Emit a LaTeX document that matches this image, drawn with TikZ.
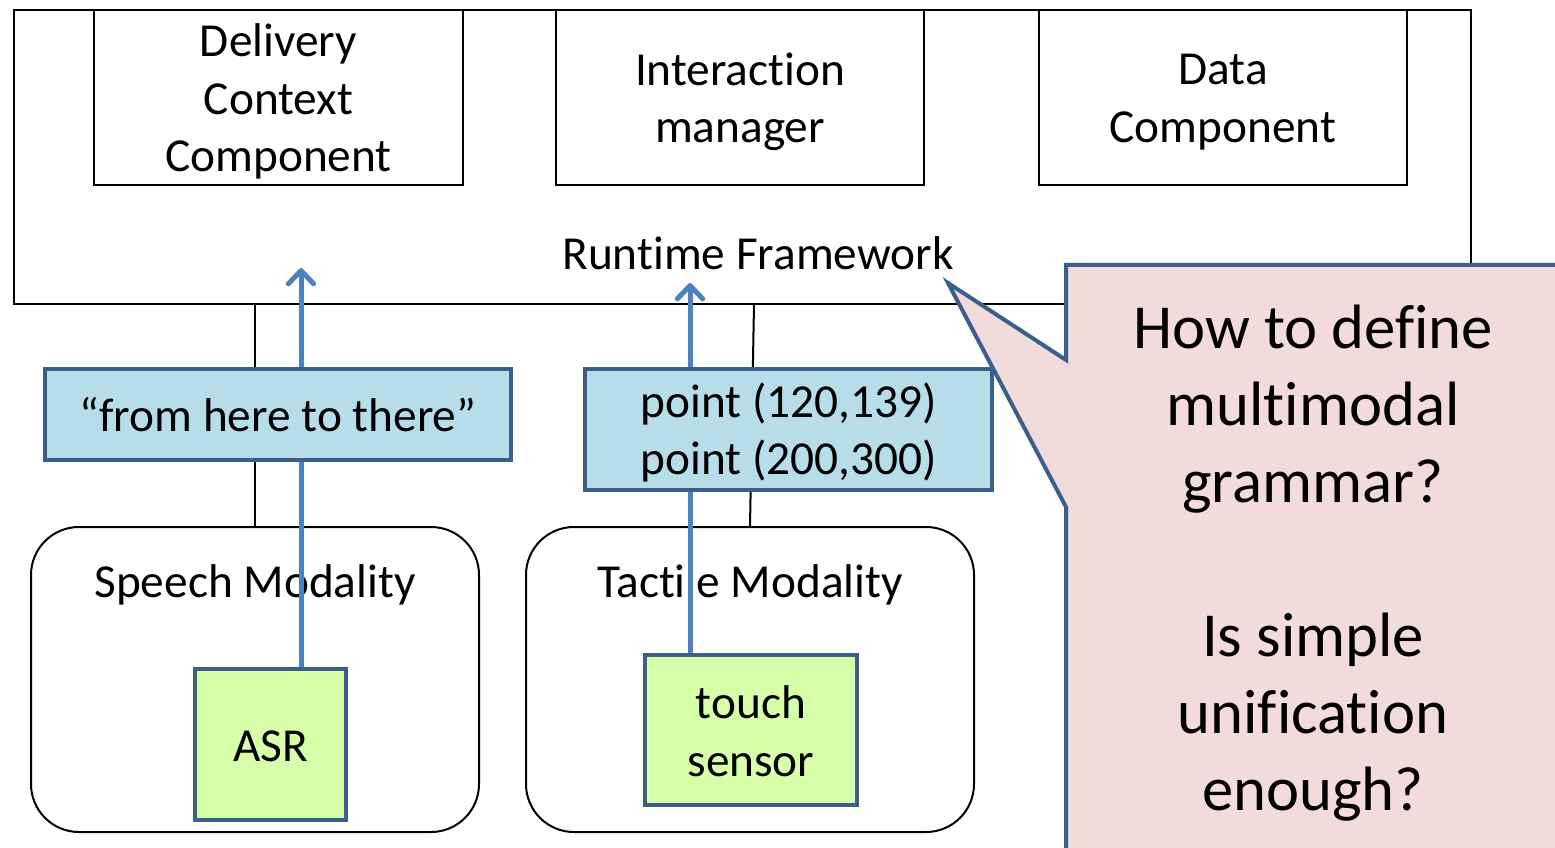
\documentclass[tikz,border=0pt]{standalone}
\usepackage{fontspec}
\setmainfont{Carlito}[Ligatures=NoCommon]
\usetikzlibrary{arrows.meta,calc}
\definecolor{msgfill}{HTML}{B7DEE8}
\definecolor{msgline}{HTML}{3B5E8C}
\definecolor{arrowblue}{HTML}{4F81BD}
\definecolor{devfill}{HTML}{D7FFAA}
\definecolor{notefill}{HTML}{F2DCDB}
\tikzset{
  txt/.style={font=\fontsize{35.5}{43}\selectfont, align=center, inner sep=0pt},
  plainbox/.style={draw=black, line width=1.5pt, fill=white, inner sep=0pt},
  modbox/.style={plainbox, rounded corners=36pt},
  msgbox/.style={draw=msgline, line width=3pt, fill=msgfill, inner sep=0pt, txt},
  devbox/.style={draw=msgline, line width=3pt, fill=devfill, inner sep=0pt, txt},
  link/.style={draw=black, line width=1.5pt},
  flow/.style={draw=arrowblue, line width=3.75pt,
    -{Straight Barb[length=10pt,width=19pt,line join=round,line cap=round]}},
}
\begin{document}
\begin{tikzpicture}[x=0.75pt,y=-0.75pt]
\useasboundingbox (0,0) rectangle (1555,848);
\begin{scope}
\clip (0,0) rectangle (1555,848);

% runtime framework and its components
\node[plainbox, minimum width=1457*0.75pt, minimum height=294*0.75pt] (fw) at (742.5,157) {};
\node[txt] (fwlabel) at (758,253) {Runtime Framework};
\node[plainbox, minimum width=369*0.75pt, minimum height=175*0.75pt] (dc) at (278.5,97.5) {};
\node[plainbox, minimum width=368*0.75pt, minimum height=175*0.75pt] (im) at (740,97.5) {};
\node[plainbox, minimum width=368*0.75pt, minimum height=175*0.75pt] (dcomp) at (1223,97.5) {};
\node[txt] (dctext) at ([yshift=-3pt]dc.center) {Delivery\\Context\\Component};
\node[txt] (imtext) at ([yshift=-3pt]im.center) {Interaction\\manager};
\node[txt] (dcomptext) at ([yshift=-3.5pt]dcomp.center) {Data\\Component};

% modalities
\node[modbox, minimum width=448*0.75pt, minimum height=305*0.75pt] (sp) at (255,679.5) {};
\node[modbox, minimum width=448*0.75pt, minimum height=305*0.75pt] (tm) at (750,679.5) {};
\node[txt] (splabel) at (255,585) {Speech Modality};
\node[txt] (tmlabel) at (750,585) {Tactile Modality};

% connections between the modalities and the framework
\draw[link] (sp.north |- fw.south) -- (sp.north);
\coordinate (t1) at (754,304);
\draw[link] (t1) -- (tm.north);

% devices
\node[devbox, minimum width=151*0.75pt, minimum height=151*0.75pt] (asr) at (270.5,744.5) {};
\node[devbox, minimum width=212*0.75pt, minimum height=150*0.75pt] (touch) at (751,730) {};
\node[txt] (asrtext) at ([yshift=-1.5pt]asr.center) {ASR};
\node[txt] (touchtext) at ([yshift=-1pt]touch.center) {touch\\sensor};

% event flows
\coordinate (a1) at (301,268);
\coordinate (a2) at (690,283);
\draw[flow] (asr.north -| a1) -- (a1);
\draw[flow] (touch.north -| a2) -- (a2);

% recognised events
\node[msgbox, minimum width=466*0.75pt, minimum height=91*0.75pt] (utt) at (278,414.5) {“from here to there”};
\node[msgbox, minimum width=407*0.75pt, minimum height=121*0.75pt] (pts) at (788.5,429.5) {};
\node[txt] (ptstext) at ([yshift=-2.25pt]pts.center) {point (120,139)\\point (200,300)};

% callout with the open questions
\coordinate (tip) at (948,283);
\draw[draw=msgline, line width=3pt, fill=notefill, line join=miter]
  (1066,265) -- (1565,265) -- (1565,860) -- (1066,860) -- (1066,507) -- (tip) -- (1066,360) -- cycle;
\node[txt, font=\fontsize{47}{57.75}\selectfont] (q) at (1313,563)
  {How to define\\multimodal\\grammar?\\[57.75pt]Is simple\\unification\\enough?};
\end{scope}
\end{tikzpicture}
\end{document}
